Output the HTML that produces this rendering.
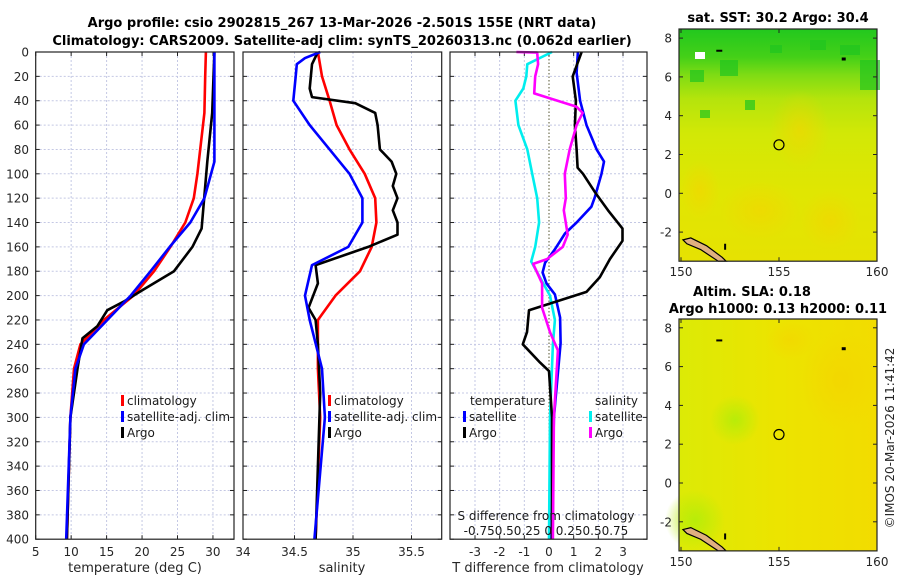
<!DOCTYPE html>
<html><head><meta charset="utf-8">
<style>
body{margin:0;background:#fff;}
svg{display:block;font-family:"DejaVu Sans","Liberation Sans",sans-serif;}
</style></head>
<body>
<svg id="c" width="900" height="580" viewBox="0 0 900 580" xmlns="http://www.w3.org/2000/svg">
<defs>
<linearGradient id="sstg" x1="0" y1="0" x2="0" y2="1">
<stop offset="0" stop-color="#22c81e"/>
<stop offset="0.12" stop-color="#44d018"/>
<stop offset="0.2" stop-color="#80dc14"/>
<stop offset="0.3" stop-color="#b4e40c"/>
<stop offset="0.45" stop-color="#d2e806"/>
<stop offset="0.7" stop-color="#e0e602"/>
<stop offset="1" stop-color="#e6e202"/>
</linearGradient>
<linearGradient id="slag" x1="0" y1="0" x2="1" y2="0">
<stop offset="0" stop-color="#dcea06"/>
<stop offset="0.5" stop-color="#ece400"/>
<stop offset="1" stop-color="#f2dc00"/>
</linearGradient>
<radialGradient id="grn" cx="0.5" cy="0.5" r="0.5"><stop offset="0" stop-color="#b8ec08"/><stop offset="1" stop-color="#b8ec08" stop-opacity="0"/></radialGradient>
<radialGradient id="org" cx="0.5" cy="0.5" r="0.5"><stop offset="0" stop-color="#f4d400"/><stop offset="1" stop-color="#f4d400" stop-opacity="0"/></radialGradient>
</defs>
<g id="root"></g>
</svg>
<script>
// ---- data (depth in m) ----
const climDepth = [0,20,50,100,120,140,160,180,200,220,240,260,300,400];
const climTemp  = [29.0,28.9,28.8,27.8,27.3,26.1,24.0,21.7,18.8,14.6,11.3,10.4,9.9,9.4];
const satDepth  = [0,90,120,140,160,180,200,220,240,260,300,400];
const satTemp   = [30.2,30.2,28.8,26.8,23.9,21.2,18.4,15.1,11.8,10.6,9.9,9.3];
const argoDepth = [0,50,90,145,160,180,195,205,212,225,235,260,300,400];
const argoTemp  = [30.2,29.9,29.2,28.4,27.1,24.5,20.2,17.4,15.1,13.7,11.6,10.9,9.9,9.4];

const climSDepth = [0,20,40,60,80,100,120,140,160,180,200,220,260,300,400];
const climSal    = [34.70,34.735,34.80,34.86,34.97,35.10,35.19,35.20,35.16,35.06,34.85,34.70,34.70,34.72,34.68];
const satSDepth  = [0,5,10,20,40,60,80,100,120,140,160,175,200,220,260,300,400];
const satSal     = [34.72,34.59,34.52,34.51,34.49,34.63,34.80,34.97,35.08,35.08,34.96,34.65,34.59,34.63,34.735,34.76,34.67];
const argoSDepth = [0,10,30,37,42,50,60,80,90,100,110,120,130,140,150,160,175,190,210,220,240,280,400];
const argoSal    = [34.70,34.65,34.63,34.65,35.02,35.19,35.21,35.23,35.33,35.37,35.34,35.38,35.34,35.38,35.38,35.13,34.68,34.70,34.62,34.68,34.70,34.72,34.68];

const dTSatDepth = [0,17,40,60,80,90,100,119,127,140,149,162,173,181,190,199,218,239,300,400];
const dTSat      = [1.17,1.12,1.26,1.52,1.93,2.23,2.13,1.86,1.72,1.12,0.65,0.24,-0.16,-0.26,-0.10,0.24,0.45,0.47,0.20,0.10];
const dTArgoDepth= [0,20,40,60,80,95,100,115,130,145,155,170,185,197,212,230,240,255,262,300,400];
const dTArgo     = [1.32,0.96,1.09,1.05,1.12,1.16,1.38,1.86,2.39,2.98,2.98,2.47,2.06,1.52,-0.81,-0.89,-1.06,-0.36,0.0,0.12,0.12];
const dSSatDepth = [0,10,20,30,40,60,80,100,120,140,160,172,200,220,240,300,400];
const dSSat      = [0.03,-0.22,-0.23,-0.26,-0.34,-0.31,-0.22,-0.17,-0.12,-0.10,-0.14,-0.18,0.01,0.06,0.04,0.01,0.0];
const dSArgoDepth= [0,0.5,10,20,34,45,50,60,80,100,120,130,150,160,170,174,190,210,230,245,300,400];
const dSArgo     = [-0.33,-0.12,-0.11,-0.14,-0.15,0.28,0.34,0.28,0.21,0.16,0.17,0.15,0.19,0.14,-0.02,-0.16,-0.07,-0.07,0.01,0.09,0.05,0.04];

const depthTicks = [0,20,40,60,80,100,120,140,160,180,200,220,240,260,280,300,320,340,360,380,400];
const tempTicks = [5,10,15,20,25,30];
const salTicks = [34.5,35,35.5];
const diffTicks = [-3,-2,-1,0,1,2,3];
const sTickLabels = "-0.750.50.25 0 0.250.50.75";
const latTicks = [8,6,4,2,0,-2];
const lonTicks = [150,155,160];

// ---- scales ----
const Y0 = 52, YS = 1.218;
const yD = d => Y0 + d*YS;
const xT = t => 35.7 + (t-5)*7.09;
const xS = s => 353 + (s-35)*117;
const xDT = t => 549 + t*24.67;
const xDS = s => 549 + s*4*24.67;

const NS="http://www.w3.org/2000/svg";
const root=document.getElementById('root');
function mk(tag,attrs,parent){const e=document.createElementNS(NS,tag);for(const k in attrs)e.setAttribute(k,attrs[k]);(parent||root).appendChild(e);return e;}
function txt(x,y,s,opt,parent){const e=mk('text',Object.assign({x:x,y:y,'font-size':12,fill:'#262626'},opt||{}),parent);e.textContent=s;return e;}

const panels=[{x0:35.7,x1:234,name:'temperature-panel'},{x0:243,x1:441.7,name:'salinity-panel'},{x0:450,x1:647,name:'difference-panel'}];
const yB=yD(400);
panels.forEach((p,i)=>{
  const g=mk('g',{});
  
  
  depthTicks.forEach(d=>{
    if(d>0&&d<400) mk('line',{x1:p.x0,x2:p.x1,y1:yD(d),y2:yD(d),stroke:'#c4c8e4','stroke-width':1,'stroke-dasharray':'2,2'},g);
    mk('line',{x1:p.x0,x2:p.x0+4,y1:yD(d),y2:yD(d),stroke:'#222'},g);
    mk('line',{x1:p.x1-4,x2:p.x1,y1:yD(d),y2:yD(d),stroke:'#222'},g);
  });
  p.g=g;
});
// vertical grids
tempTicks.forEach(t=>{const x=xT(t); if(t>5) mk('line',{x1:x,x2:x,y1:Y0,y2:yB,stroke:'#c4c8e4','stroke-dasharray':'2,2'},panels[0].g); mk('line',{x1:x,x2:x,y1:yB-4,y2:yB,stroke:'#222'},panels[0].g);mk('line',{x1:x,x2:x,y1:Y0,y2:Y0+4,stroke:'#222'},panels[0].g);
  const l=txt(x,556,String(t),{'text-anchor':'middle'});  });
salTicks.forEach(s=>{const x=xS(s); mk('line',{x1:x,x2:x,y1:Y0,y2:yB,stroke:'#c4c8e4','stroke-dasharray':'2,2'},panels[1].g); mk('line',{x1:x,x2:x,y1:yB-4,y2:yB,stroke:'#222'},panels[1].g);
  const l=txt(x,556,String(s),{'text-anchor':'middle'});  });
txt(243,556,'34',{'text-anchor':'middle'});
diffTicks.forEach(t=>{const x=xDT(t);
  if(t===0) mk('line',{x1:x,x2:x,y1:Y0,y2:yB,stroke:'#555530','stroke-dasharray':'1.5,2'},panels[2].g);
  else mk('line',{x1:x,x2:x,y1:Y0,y2:yB,stroke:'#c4c8e4','stroke-dasharray':'2,2'},panels[2].g);
  mk('line',{x1:x,x2:x,y1:yB-4,y2:yB,stroke:'#222'},panels[2].g);mk('line',{x1:x,x2:x,y1:Y0,y2:Y0+4,stroke:'#222'},panels[2].g);
  const l=txt(x,556,String(t),{'text-anchor':'middle'});  });
depthTicks.forEach(d=>{const l=txt(29,yD(d)+4.5,String(d),{'text-anchor':'end'});  });

function series(depths,vals,xf,color,name,clipW){
  const pts=depths.map((d,i)=>xf(vals[i]).toFixed(1)+','+yD(d).toFixed(1)).join(' ');
  const e=mk('polyline',{points:pts,fill:'none',stroke:color,'stroke-width':2.6,'stroke-linejoin':'round'});
  
  
}
series(climDepth,climTemp,xT,'#ff0000','temp-climatology-line');
series(argoDepth,argoTemp,xT,'#000000','temp-argo-line');
series(satDepth,satTemp,xT,'#0000ff','temp-satellite-line');
series(climSDepth,climSal,xS,'#ff0000','sal-climatology-line');
series(argoSDepth,argoSal,xS,'#000000','sal-argo-line');
series(satSDepth,satSal,xS,'#0000ff','sal-satellite-line');
series(dSSatDepth,dSSat,xDS,'#00eeee','sdiff-satellite-line');
series(dTSatDepth,dTSat,xDT,'#0000ff','tdiff-satellite-line');
series(dTArgoDepth,dTArgo,xDT,'#000000','tdiff-argo-line');
series(dSArgoDepth,dSArgo,xDS,'#ff00ff','sdiff-argo-line');

// frames
panels.forEach(p=>{const r=mk('rect',{x:p.x0,y:Y0,width:p.x1-p.x0,height:yB-Y0,fill:'none',stroke:'#222','stroke-width':1.2});
   });

// legends
function leg(x,y,color,label,name){
  mk('rect',{x:x,y:y-10,width:3,height:11,fill:color});
  const t=txt(x+6,y,label,{fill:'#1a1a1a'});
  
  
}
leg(121,405,'#ff0000','climatology','legend-climatology');
leg(121,421,'#0000ff','satellite-adj. clim','legend-satellite');
leg(121,437,'#000000','Argo','legend-argo');
leg(328,405,'#ff0000','climatology','legend-sal-climatology');
leg(328,421,'#0000ff','satellite-adj. clim','legend-sal-satellite');
leg(328,437,'#000000','Argo','legend-sal-argo');
txt(470,405,'temperature',{fill:'#1a1a1a'});
txt(595,405,'salinity',{fill:'#1a1a1a'});
leg(463,421,'#0000ff','satellite','legend-t-satellite');
leg(463,437,'#000000','Argo','legend-t-argo');
leg(589,421,'#00eeee','satellite','legend-s-satellite');
leg(589,437,'#ff00ff','Argo','legend-s-argo');
txt(546,520,'S difference from climatology',{'text-anchor':'middle',fill:'#1a1a1a'});
txt(546,535,sTickLabels,{'text-anchor':'middle',fill:'#1a1a1a'});

// axis titles
txt(135,572,'temperature (deg C)',{'text-anchor':'middle','font-size':13});
txt(342,572,'salinity',{'text-anchor':'middle','font-size':13});
txt(548,572,'T difference from climatology',{'text-anchor':'middle','font-size':13});
txt(342,27,'Argo profile: csio 2902815_267 13-Mar-2026 -2.501S 155E (NRT data)',{'text-anchor':'middle','font-size':13,'font-weight':'bold',fill:'#000'});
txt(342,45,'Climatology: CARS2009. Satellite-adj clim: synTS_20260313.nc (0.062d earlier)',{'text-anchor':'middle','font-size':13,'font-weight':'bold',fill:'#000'});

// ---- maps ----
const lonX = lo => 681 + (lo-150)*19.6;
function drawMap(top,lat0y,fill,name){
  const bottom=lat0y+3.5*19.4;
  const latY = la => lat0y - la*19.4;
  const g=mk('g',{});
  
  
  mk('rect',{x:679,y:top,width:198,height:bottom-top,fill:fill},g);
  return {g,latY,top,bottom};
}
// top SST map
const m1=drawMap(29,193.3,'url(#sstg)','sst-map');
[[690,70,14,12],[720,60,18,16],[770,45,12,8],[860,60,20,30],[700,110,10,8],[840,45,20,10],[810,40,16,10],[745,100,10,10]].forEach(b=>mk('rect',{x:b[0],y:b[1],width:b[2],height:b[3],fill:'#20c420',opacity:0.7},m1.g));
[[800,130,30,40],[760,210,40,30],[830,220,30,30],[700,190,20,30]].forEach(b=>mk('ellipse',{cx:b[0],cy:b[1],rx:b[2],ry:b[3],fill:'url(#org)',opacity:0.6},m1.g));
mk('rect',{x:695,y:52,width:10,height:7,fill:'#fff'},m1.g);
// bottom SLA map
const m2=drawMap(319,483,'url(#slag)','sla-map');
mk('ellipse',{cx:735,cy:420,rx:25,ry:25,fill:'url(#grn)'},m2.g);
mk('ellipse',{cx:695,cy:520,rx:30,ry:30,fill:'url(#grn)'},m2.g);
mk('ellipse',{cx:840,cy:380,rx:40,ry:50,fill:'url(#org)',opacity:0.7},m2.g);
mk('ellipse',{cx:790,cy:340,rx:25,ry:20,fill:'url(#org)',opacity:0.6},m2.g);
[m1,m2].forEach((m,i)=>{
  const ly=m.latY;
  // coastline
  mk('path',{d:`M${lonX(150.1)},${ly(-2.4)} L${lonX(150.5)},${ly(-2.3)} L${lonX(151.3)},${ly(-2.7)} L${lonX(152.1)},${ly(-3.3)} L${lonX(152.3)},${ly(-3.5)} L${lonX(151.9)},${ly(-3.5)} L${lonX(151.0)},${ly(-2.9)} L${lonX(150.3)},${ly(-2.6)} Z`,fill:'#e0b080',stroke:'#000','stroke-width':1.2},m.g);
  mk('rect',{x:lonX(152.2),y:ly(-2.6),width:2,height:6,fill:'#000'},m.g);
  mk('rect',{x:lonX(158.2),y:ly(7.0),width:4,height:3,fill:'#000'},m.g);
  mk('rect',{x:lonX(151.8),y:ly(7.4),width:6,height:2,fill:'#000'},m.g);
  const c=mk('circle',{cx:lonX(155.0),cy:ly(2.5),r:5,fill:'none',stroke:'#000','stroke-width':1.2},m.g);
   
  mk('rect',{x:679,y:m.top,width:198,height:m.bottom-m.top,fill:'none',stroke:'#222','stroke-width':1.2});
  latTicks.forEach(la=>{const y=ly(la);mk('line',{x1:679,x2:683,y1:y,y2:y,stroke:'#222'});mk('line',{x1:873,x2:877,y1:y,y2:y,stroke:'#222'});
    const l=txt(672,y+4.5,String(la),{'text-anchor':'end'});  });
  lonTicks.forEach(lo=>{const x=lonX(lo);mk('line',{x1:x,x2:x,y1:m.bottom-4,y2:m.bottom,stroke:'#222'});mk('line',{x1:x,x2:x,y1:m.top,y2:m.top+4,stroke:'#222'});
    const l=txt(x,m.bottom+15,String(lo),{'text-anchor':'middle'});  });
});
txt(778,22,'sat. SST: 30.2 Argo: 30.4',{'text-anchor':'middle','font-size':13,'font-weight':'bold',fill:'#000'});
txt(752,296,'Altim. SLA: 0.18',{'text-anchor':'middle','font-size':13,'font-weight':'bold',fill:'#000'});
txt(778,313,'Argo h1000: 0.13 h2000: 0.11',{'text-anchor':'middle','font-size':13,'font-weight':'bold',fill:'#000'});
const cp=txt(0,0,'©IMOS 20-Mar-2026 11:41:42',{'text-anchor':'middle','transform':'translate(894,438) rotate(-90)'});
 
</script>
</body></html>
